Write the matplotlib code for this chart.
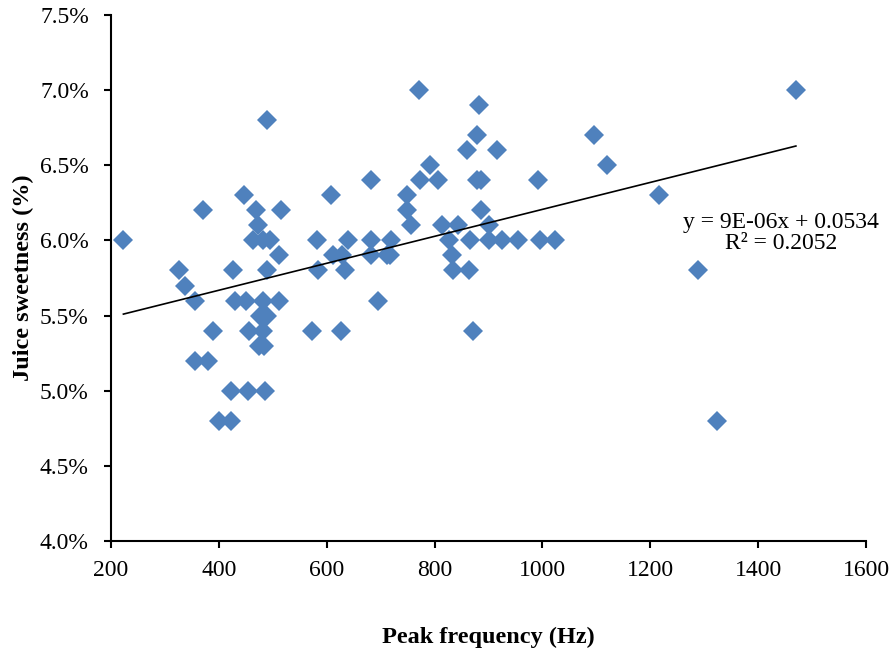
import numpy as np
import matplotlib
matplotlib.use("Agg")
import matplotlib.pyplot as plt
from matplotlib.ticker import FuncFormatter, MultipleLocator

plt.rcParams['font.family'] = ['Liberation Serif', 'DejaVu Serif']

# Peak frequency (Hz)
freq = [223, 464, 482, 495, 582, 639, 682, 719, 827, 866, 900, 925, 955, 996, 1023,
        473, 756, 813, 844, 900,
        370, 469, 516, 749, 886,
        447, 608, 748, 1217,
        683, 773, 807, 878, 887, 991,
        792, 1119,
        860, 916,
        879, 1096,
        489,
        882,
        772, 1470,
        512, 612, 628, 682, 711, 717, 832,
        327, 427, 489, 583, 634, 835, 863, 1289,
        337,
        356, 430, 450, 481, 512, 695,
        476, 489,
        389, 456, 481, 573, 626, 872,
        475, 484,
        356, 379,
        422, 454, 485,
        401, 423, 1323]
# Juice sweetness (%)
sweet = [6.0]*15 + [6.1]*5 + [6.2]*5 + [6.3]*4 + [6.4]*6 + [6.5]*2 + [6.6]*2 + \
        [6.7]*2 + [6.8] + [6.9] + [7.0]*2 + [5.9]*7 + [5.8]*8 + [5.7] + [5.6]*6 + \
        [5.5]*2 + [5.4]*6 + [5.3]*2 + [5.2]*2 + [5.0]*3 + [4.8]*3

x_ticks = [200, 400, 600, 800, 1000, 1200, 1400, 1600]
eq_text = "y = 9E-06x + 0.0534\nR² = 0.2052"

fig = plt.figure(figsize=(8.91, 6.49), dpi=100)
ax = fig.add_axes([111/891, 1-541/649, (866-111)/891, (541-15)/649])

x = np.array(freq, dtype=float)
y = np.array(sweet, dtype=float)
ax.plot(x, y, linestyle='none', marker='D', markersize=10.2,
        color='#4F81BD', markeredgewidth=0, zorder=3)

m, b = np.polyfit(x, y, 1)
xl = np.array([x.min(), x.max()])
ax.plot(xl, m*xl + b, color='black', linewidth=1.2, zorder=4)

ax.text(1442, 6.05, eq_text, ha='center', va='center', fontsize=17,
        linespacing=1.0, zorder=5)

ax.set_xlim(200, 1600)
ax.set_ylim(4.0, 7.5)
ax.set_xticks(x_ticks)
ax.yaxis.set_major_locator(MultipleLocator(0.5))
ax.yaxis.set_major_formatter(FuncFormatter(lambda v, p: f"{v:.1f}%"))

for s in ['top', 'right']:
    ax.spines[s].set_visible(False)
for s in ['left', 'bottom']:
    ax.spines[s].set_linewidth(1.5)
ax.tick_params(direction='out', length=5, width=1.5, labelsize=17)
ax.tick_params(axis='y', pad=11)
ax.tick_params(axis='x', pad=9)

ax.set_xlabel("Peak frequency (Hz)", fontsize=17.5, fontweight='bold', labelpad=33)
ax.set_ylabel("Juice sweetness (%)", fontsize=17.5, fontweight='bold', labelpad=4)

fig.savefig("out.png", dpi=100)
